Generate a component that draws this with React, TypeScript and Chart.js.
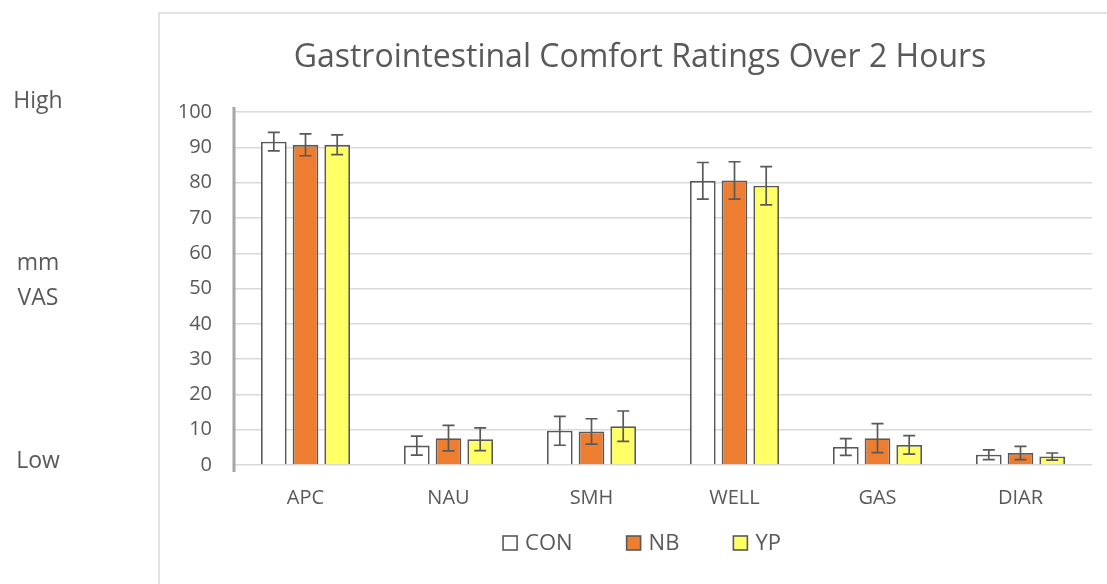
import React, { useEffect, useRef } from "react";
import { Chart, registerables } from "chart.js";

Chart.register(...registerables);

const categories = ["APC", "NAU", "SMH", "WELL", "GAS", "DIAR"];
const seriesNames = ["CON", "NB", "YP"];
const conValues = [91.6, 5.5, 9.7, 80.5, 5.1, 2.9];
const conErrors = [2.6, 2.7, 4.1, 5.2, 2.4, 1.4];
const nbValues = [90.7, 7.6, 9.5, 80.6, 7.6, 3.4];
const nbErrors = [3.1, 3.6, 3.6, 5.3, 4.1, 1.9];
const ypValues = [90.7, 7.3, 11.0, 79.1, 5.7, 2.4];
const ypErrors = [2.8, 3.2, 4.3, 5.4, 2.6, 1.0];
const yTicks = [0, 10, 20, 30, 40, 50, 60, 70, 80, 90, 100];
const titleText = "Gastrointestinal Comfort Ratings Over 2 Hours";
const sideLabels = ["High", "mm", "VAS", "Low"];

const FONT = "'Open Sans', sans-serif";
const TEXT = "#595959";
const errorSets = [conErrors, nbErrors, ypErrors];

const errorBarPlugin = {
  id: "errorBars",
  afterDatasetsDraw(chart: any) {
    const ctx = chart.ctx;
    const yScale = chart.scales.y;
    ctx.save();
    ctx.strokeStyle = "#595959";
    ctx.lineWidth = 1.7;
    chart.data.datasets.forEach((ds: any, di: number) => {
      const meta = chart.getDatasetMeta(di);
      meta.data.forEach((el: any, i: number) => {
        const v = ds.data[i];
        const e = errorSets[di][i];
        const x = el.x;
        const yt = yScale.getPixelForValue(v + e);
        const yb = yScale.getPixelForValue(Math.max(0, v - e));
        const cap = 6;
        ctx.beginPath();
        ctx.moveTo(x, yt);
        ctx.lineTo(x, yb);
        ctx.moveTo(x - cap, yt);
        ctx.lineTo(x + cap, yt);
        ctx.moveTo(x - cap, yb);
        ctx.lineTo(x + cap, yb);
        ctx.stroke();
      });
    });
    ctx.restore();
  },
};

const decorPlugin = {
  id: "decor",
  afterDraw(chart: any) {
    const ctx = chart.ctx;
    const area = chart.chartArea;
    ctx.save();
    // frame
    ctx.strokeStyle = "#D9D9D9";
    ctx.lineWidth = 1.5;
    ctx.beginPath();
    ctx.moveTo(159, 584);
    ctx.lineTo(159, 13);
    ctx.lineTo(1107, 13);
    ctx.stroke();
    // y axis line
    ctx.strokeStyle = "#A6A6A6";
    ctx.lineWidth = 3;
    ctx.beginPath();
    ctx.moveTo(area.left, area.top - 5);
    ctx.lineTo(area.left, area.bottom + 7);
    ctx.stroke();
    // title
    ctx.fillStyle = TEXT;
    ctx.textBaseline = "middle";
    ctx.textAlign = "center";
    ctx.font = "32px " + FONT;
    ctx.fillText(titleText, 640, 58);
    // side labels
    ctx.font = "23px " + FONT;
    const ys = [101, 263, 298, 461];
    sideLabels.forEach((t, i) => ctx.fillText(t, 38, ys[i]));
    // legend
    ctx.font = "22px " + FONT;
    ctx.textAlign = "left";
    const box = 14;
    const gapText = 8;
    const gapItem = 54;
    const items = chart.data.datasets.map((ds: any) => ({
      label: ds.label,
      fill: ds.backgroundColor,
      w: box + gapText + ctx.measureText(ds.label).width,
    }));
    const total =
      items.reduce((s: number, it: any) => s + it.w, 0) + gapItem * (items.length - 1);
    let x = 642 - total / 2;
    const cy = 543;
    items.forEach((it: any) => {
      ctx.fillStyle = it.fill;
      ctx.fillRect(x, cy - box / 2, box, box);
      ctx.strokeStyle = "#595959";
      ctx.lineWidth = 1.6;
      ctx.strokeRect(x, cy - box / 2, box, box);
      ctx.fillStyle = TEXT;
      ctx.fillText(it.label, x + box + gapText, cy + 1);
      x += it.w + gapItem;
    });
    ctx.restore();
  },
};

export default function App() {
  const ref = useRef<HTMLCanvasElement>(null);
  useEffect(() => {
    document.body.style.margin = "0";
    const canvas = ref.current!;
    const fills = ["#FFFFFF", "#ED7D31", "#FFFF66"];
    const values = [conValues, nbValues, ypValues];
    const chart = new Chart(canvas, {
      type: "bar",
      data: {
        labels: categories,
        datasets: seriesNames.map((name, i) => ({
          label: name,
          data: values[i],
          backgroundColor: fills[i],
          borderColor: "#595959",
          borderWidth: 1.8,
          categoryPercentage: 0.665,
          barPercentage: 0.81,
        })),
      },
      options: {
        responsive: false,
        animation: false,
        devicePixelRatio: 1,
        font: { family: FONT },
        layout: { padding: { left: 174, right: 15, top: 112, bottom: 69 } },
        plugins: {
          title: { display: false },
          legend: { display: false },
          tooltip: { enabled: false },
        },
        scales: {
          x: {
            grid: { display: false },
            border: { display: false },
            ticks: { color: TEXT, font: { family: FONT, size: 20 }, padding: 13 },
            afterFit: (s: any) => {
              s.height = 50;
            },
          },
          y: {
            min: 0,
            max: 100,
            afterBuildTicks: (s: any) => {
              s.ticks = yTicks.map((v) => ({ value: v }));
            },
            grid: { color: "#D9D9D9", lineWidth: 1.4, drawTicks: false },
            border: { display: false },
            ticks: { color: TEXT, font: { family: FONT, size: 20 }, padding: 22 },
            afterFit: (s: any) => {
              s.width = 60;
            },
          },
        },
      } as any,
      plugins: [errorBarPlugin, decorPlugin],
    });
    return () => chart.destroy();
  }, []);
  return (
    <div style={{ width: 1107, height: 584 }}>
      <canvas ref={ref} width={1107} height={584} style={{ display: "block" }} />
    </div>
  );
}
